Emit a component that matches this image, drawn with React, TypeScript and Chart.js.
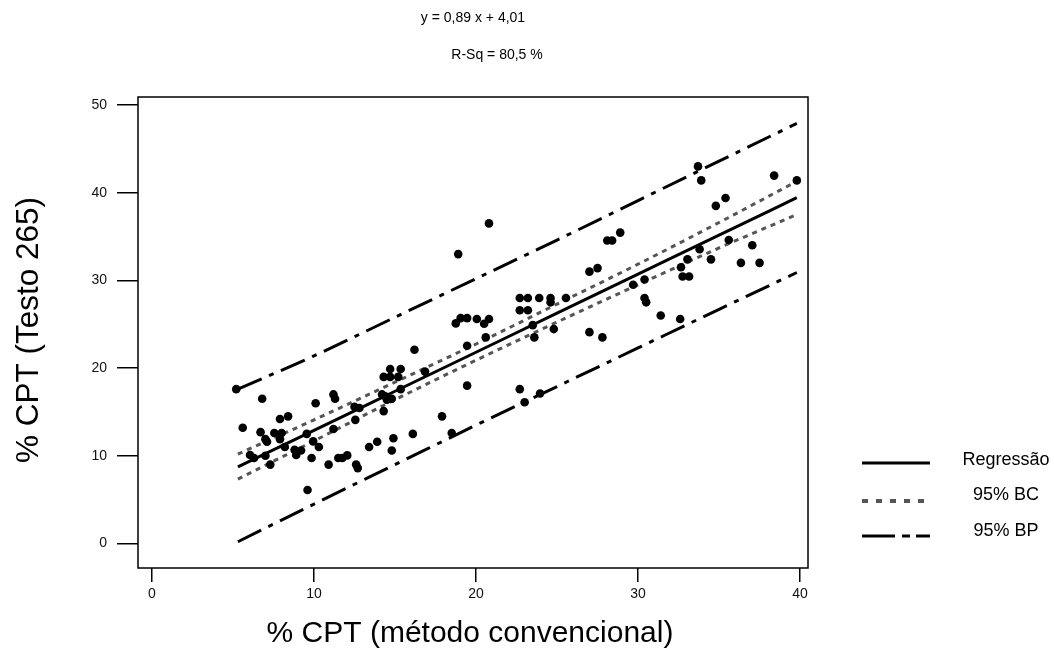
import { useEffect, useRef } from "react";
import { Chart, registerables } from "chart.js";

Chart.register(...registerables);

// ---- data ----
const scatterX = [
  5.2, 6.8, 5.6, 7.9, 8.4, 10.1, 11.2, 11.3, 6.7, 7.0, 7.1, 7.55, 8.0, 7.9, 9.55, 8.2,
  6.05, 6.3, 7.3, 7.0, 8.8, 9.2, 8.9, 9.95, 10.3, 9.85, 9.6, 11.2, 11.5, 11.75, 10.9,
  12.55, 12.05, 12.6, 12.7, 12.5, 12.8, 13.4, 13.9, 14.2, 14.4, 14.5, 14.8, 14.3, 14.3,
  14.7, 15.2, 14.7, 15.35, 15.35, 14.8, 14.9, 16.1, 16.2, 16.85, 17.9, 18.5, 18.9, 20.8,
  18.75, 19.05, 19.45, 20.05, 20.5, 20.8, 19.45, 19.45, 20.6, 22.7, 23.2, 22.7, 23.2,
  22.7, 23.0, 23.95, 23.9, 24.6, 24.6, 25.55, 23.5, 23.6, 24.8, 27.0, 27.8, 27.0, 27.5,
  28.1, 28.4, 28.9, 29.7, 30.4, 30.4, 30.5, 31.4, 32.6, 32.65, 32.75, 33.15, 33.05,
  33.8, 34.5, 35.6, 37.05, 36.35, 37.5, 33.7, 33.9, 38.4, 39.8, 34.8, 35.4,
];
const scatterY = [
  17.6, 16.5, 13.2, 14.2, 14.5, 16.0, 17.0, 16.5, 12.7, 11.9, 11.6, 12.6, 12.6, 11.9, 12.5, 11.0,
  10.1, 9.75, 9.0, 10.0, 10.7, 10.6, 10.1, 11.65, 11.0, 9.75, 6.1, 13.05, 9.75, 9.75, 9.0,
  14.1, 10.05, 9.0, 8.6, 15.6, 15.45, 11.0, 11.6, 17.0, 16.8, 16.4, 16.5, 15.1, 19.0,
  19.0, 19.0, 19.9, 19.9, 17.6, 10.6, 12.0, 12.5, 22.1, 19.6, 14.5, 12.6, 33.0, 36.5,
  25.1, 25.7, 25.7, 25.6, 25.06, 25.6, 22.55, 18.0, 23.5, 28.0, 28.0, 26.6, 26.6,
  17.6, 16.1, 17.1, 28.0, 28.0, 27.5, 28.0, 24.9, 23.5, 24.45, 24.1, 23.5, 31.0, 31.4,
  34.55, 34.55, 35.45, 29.5, 30.1, 28.0, 27.5, 26.0, 25.6, 31.5, 30.45, 30.45, 32.4,
  33.55, 32.4, 34.6, 34.0, 32.0, 32.0, 43.0, 41.4, 41.95, 41.4, 38.5, 39.4,
];

const lineX = [5.3, 10, 15, 20, 25, 30, 35, 39.8];
const regressionY = [8.73, 12.91, 17.36, 21.81, 26.26, 30.71, 35.16, 39.43];
const ciUpperY = [10.2, 14.1, 18.4, 22.75, 27.3, 31.85, 36.6, 41.3];
const ciLowerY = [7.35, 11.7, 16.4, 20.9, 25.25, 29.5, 33.7, 37.5];
const piUpperY = [17.6, 21.4, 25.8, 30.2, 34.6, 39.1, 43.6, 47.9];
const piLowerY = [0.2, 4.5, 9.0, 13.5, 17.9, 22.3, 26.7, 30.9];

const xTickValues = [0, 10, 20, 30, 40];
const yTickValues = [0, 10, 20, 30, 40, 50];

const equationText = "y = 0,89 x + 4,01";
const rsqText = "R-Sq = 80,5 %";
const xTitle = "% CPT (método convencional)";
const yTitle = "% CPT (Testo 265)";
const legendLabels = ["Regressão", "95% BC", "95% BP"];

const FONT = '"Liberation Sans", Arial, Helvetica, sans-serif';

export default function App() {
  const ref = useRef<HTMLCanvasElement>(null);

  useEffect(() => {
    const canvas = ref.current;
    if (!canvas) return;

    const pts = (xs: number[], ys: number[]) => xs.map((x, i) => ({ x, y: ys[i] }));

    const lineDs = (label: string, ys: number[], color: string, dash: number[], width: number) => ({
      type: "line" as const,
      label,
      data: pts(lineX, ys),
      borderColor: color,
      backgroundColor: color,
      borderDash: dash,
      borderWidth: width,
      borderCapStyle: "butt" as const,
      pointRadius: 0,
      pointHoverRadius: 0,
      fill: false,
      showLine: true,
      cubicInterpolationMode: "monotone" as const,
    });

    const legendStyles = [
      { color: "#000", dash: [] as number[], width: 3 },
      { color: "#555", dash: [6, 8], width: 4 },
      { color: "#000", dash: [33, 7, 8, 6], width: 3 },
    ];

    const overlay = {
      id: "overlay",
      afterDraw(chart: any) {
        const { ctx, chartArea: a } = chart;
        ctx.save();
        // frame
        ctx.strokeStyle = "#000";
        ctx.lineWidth = 1.5;
        ctx.setLineDash([]);
        ctx.strokeRect(a.left, a.top, a.right - a.left, a.bottom - a.top);

        ctx.fillStyle = "#000";
        ctx.textAlign = "center";
        ctx.textBaseline = "middle";
        ctx.font = `14px ${FONT}`;
        ctx.fillText(equationText, 473, 18);
        ctx.fillText(rsqText, 497, 55);

        ctx.textBaseline = "alphabetic";
        ctx.font = `30px ${FONT}`;
        ctx.fillText(xTitle, 470, 642);
        ctx.save();
        ctx.font = `31.5px ${FONT}`;
        ctx.translate(38, 330);
        ctx.rotate(-Math.PI / 2);
        ctx.fillText(yTitle, 0, 0);
        ctx.restore();

        // legend
        const lineRows = [463, 501, 536];
        const textRows = [460, 495, 531];
        ctx.font = `18px ${FONT}`;
        ctx.textBaseline = "middle";
        legendLabels.forEach((lab, i) => {
          const s = legendStyles[i];
          ctx.beginPath();
          ctx.strokeStyle = s.color;
          ctx.lineWidth = s.width;
          ctx.setLineDash(s.dash);
          ctx.moveTo(862, lineRows[i]);
          ctx.lineTo(930, lineRows[i]);
          ctx.stroke();
          ctx.setLineDash([]);
          ctx.fillStyle = "#000";
          ctx.fillText(lab, 1006, textRows[i]);
        });
        ctx.restore();
      },
    };

    const chart = new Chart(canvas, {
      type: "scatter",
      data: {
        datasets: [
          {
            type: "scatter",
            label: "Dados",
            data: pts(scatterX, scatterY),
            backgroundColor: "#000",
            borderColor: "#000",
            borderWidth: 0,
            pointRadius: 4.3,
            pointHoverRadius: 4.3,
          },
          lineDs(legendLabels[0], regressionY, "#000", [], 3),
          lineDs(legendLabels[1], ciUpperY, "#555", [5, 5], 3),
          lineDs(legendLabels[1], ciLowerY, "#555", [5, 5], 3),
          lineDs(legendLabels[2], piUpperY, "#000", [26, 8, 5, 8], 3),
          lineDs(legendLabels[2], piLowerY, "#000", [26, 8, 5, 8], 3),
        ] as any,
      },
      options: {
        animation: false,
        responsive: true,
        maintainAspectRatio: false,
        layout: { padding: { top: 97, right: 246, left: 0, bottom: 0 } },
        plugins: {
          legend: { display: false },
          tooltip: { enabled: false },
          title: { display: false },
        },
        scales: {
          x: {
            type: "linear",
            min: -0.864,
            max: 40.49,
            afterBuildTicks: (s: any) => {
              s.ticks = xTickValues.map((v) => ({ value: v }));
            },
            afterFit: (s: any) => {
              s.height = 82;
            },
            border: { display: false },
            grid: {
              display: true,
              drawOnChartArea: false,
              drawTicks: true,
              tickLength: 14,
              color: "#000",
              lineWidth: 1.5,
            },
            ticks: {
              color: "#111",
              font: { family: FONT, size: 14 },
              padding: 4,
              maxRotation: 0,
              autoSkip: false,
            },
          },
          y: {
            type: "linear",
            min: -2.79,
            max: 50.91,
            afterBuildTicks: (s: any) => {
              s.ticks = yTickValues.map((v) => ({ value: v }));
            },
            afterFit: (s: any) => {
              s.width = 138;
            },
            border: { display: false },
            grid: {
              display: true,
              drawOnChartArea: false,
              drawTicks: true,
              tickLength: 21,
              color: "#000",
              lineWidth: 1.5,
            },
            ticks: {
              color: "#111",
              font: { family: FONT, size: 14 },
              padding: 10,
              autoSkip: false,
            },
          },
        },
      } as any,
      plugins: [overlay],
    });

    return () => chart.destroy();
  }, []);

  return (
    <div style={{ position: "fixed", left: 0, top: 0, width: 1054, height: 650, background: "#fff" }}>
      <canvas ref={ref} />
    </div>
  );
}
